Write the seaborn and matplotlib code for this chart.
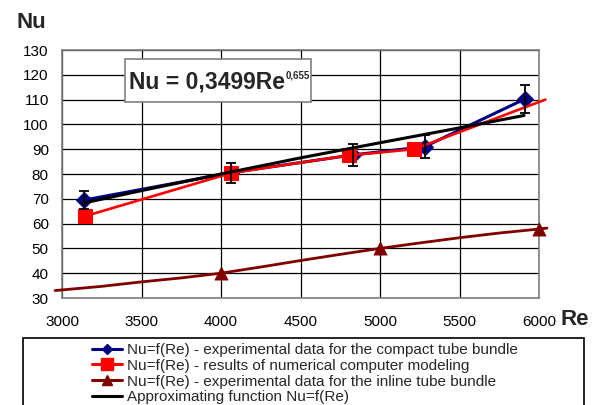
import matplotlib
matplotlib.use("Agg")
import matplotlib.pyplot as plt
from matplotlib.lines import Line2D
from matplotlib.patches import Rectangle
import seaborn as sns
import pandas as pd

# ---- data ----
compact_re = [3140, 4060, 4830, 5280, 5910]
compact_nu = [69.5, 80.5, 87.7, 91.0, 110.2]
compact_err = [3.5, 4.0, 4.4, 4.6, 5.5]

model_re = [3145, 4065, 4805, 5215, 6040]
model_nu = [63.0, 80.4, 87.5, 90.0, 110.0]

inline_curve_re = [2956, 3250, 3500, 3750, 4000, 4250, 4500, 4750, 5000, 5250, 5500, 5750, 6000, 6050]
inline_curve_nu = [33.0, 34.7, 36.5, 38.1, 40.0, 42.5, 45.1, 47.6, 50.0, 52.2, 54.3, 56.2, 57.8, 58.2]
inline_pt_re = [4000, 5000, 6000]
inline_pt_nu = [40.0, 50.0, 58.0]

approx_re = [3130, 3500, 4000, 4500, 5000, 5500, 5906]
approx_nu = [68.2, 73.3, 80.0, 86.5, 92.6, 98.6, 103.6]

x_ticks = [3000, 3500, 4000, 4500, 5000, 5500, 6000]
y_ticks = [30, 40, 50, 60, 70, 80, 90, 100, 110, 120, 130]

labels = [
    "Nu=f(Re) - experimental data for the compact tube bundle",
    "Nu=f(Re) - results of numerical computer modeling",
    "Nu=f(Re) - experimental data for the inline tube bundle",
    "Approximating function Nu=f(Re)",
]
eq_main = "Nu = 0,3499Re"
eq_exp = "0,655"

sns.set_style("white")
plt.rcParams["font.family"] = ["Liberation Sans", "DejaVu Sans"]

BLUE = "#000080"
RED = "#FF0000"
DRED = "#800000"

fig = plt.figure(figsize=(5.98, 4.05), dpi=100)
ax = fig.add_axes([62 / 598, 1 - 298 / 405, 477 / 598, 248 / 405])

df_c = pd.DataFrame({"Re": compact_re, "Nu": compact_nu})
df_m = pd.DataFrame({"Re": model_re, "Nu": model_nu})
df_ic = pd.DataFrame({"Re": inline_curve_re, "Nu": inline_curve_nu})
df_ip = pd.DataFrame({"Re": inline_pt_re, "Nu": inline_pt_nu})
df_a = pd.DataFrame({"Re": approx_re, "Nu": approx_nu})

sns.lineplot(data=df_c, x="Re", y="Nu", ax=ax, color=BLUE, lw=2.2, marker="D",
             markersize=8, markeredgecolor=BLUE, sort=False, estimator=None, zorder=3)
sns.lineplot(data=df_m, x="Re", y="Nu", ax=ax, color=RED, lw=1.9, marker="s",
             markersize=9.5, markeredgecolor=RED, markevery=[0, 1, 2, 3],
             sort=False, estimator=None, clip_on=False, zorder=4)
sns.lineplot(data=df_ic, x="Re", y="Nu", ax=ax, color=DRED, lw=2.0,
             sort=False, estimator=None, clip_on=False, zorder=3)
sns.scatterplot(data=df_ip, x="Re", y="Nu", ax=ax, color=DRED, marker="^", s=90,
                edgecolor=DRED, linewidth=0.5, clip_on=False, zorder=4)
sns.lineplot(data=df_a, x="Re", y="Nu", ax=ax, color="black", lw=2.2,
             sort=False, estimator=None, zorder=5)
ax.errorbar(compact_re, compact_nu, yerr=compact_err, fmt="none", ecolor="black",
            elinewidth=1.3, capsize=3.5, capthick=1.3, zorder=6)

ax.set_xlim(3000, 6000)
ax.set_ylim(30, 130)
ax.set_xticks(x_ticks)
ax.set_yticks(y_ticks)
ax.grid(True, color="black", lw=0.9)
ax.set_axisbelow(True)
for s in ax.spines.values():
    s.set_color("#808080")
    s.set_linewidth(1.2)
ax.tick_params(axis="both", direction="out", length=3.5, width=0.9, color="black",
               labelsize=11, labelcolor="black")
ax.tick_params(axis="x", pad=8.5)
ax.tick_params(axis="y", pad=6)
ax.set_xlabel("")
ax.set_ylabel("")
if ax.get_legend():
    ax.get_legend().remove()

# Axis titles
fig.text(16 / 598, 1 - 28 / 405, "Nu", fontsize=16, fontweight="bold", ha="left", va="baseline")
fig.text(560 / 598, 1 - 325 / 405, "Re", fontsize=16, fontweight="bold", ha="left", va="baseline")

# Equation box
fig.patches.append(Rectangle((125 / 598, 1 - 102 / 405), 186 / 598, 43 / 405,
                             transform=fig.transFigure, facecolor="white",
                             edgecolor="#808080", lw=1.2, zorder=10))
fig.text(129 / 598, 1 - 89 / 405, eq_main, fontsize=16.5, fontweight="bold",
         ha="left", va="baseline", zorder=11)
fig.text(286 / 598, 1 - 78 / 405, eq_exp, fontsize=7, fontweight="bold",
         ha="left", va="baseline", zorder=11)

# Legend frame and legend
fig.patches.append(Rectangle((23 / 598, -0.05), 561 / 598, (405 - 338) / 405 + 0.05,
                             transform=fig.transFigure, fill=False, edgecolor="black",
                             lw=1.2, clip_on=False))
handles = [
    Line2D([], [], color=BLUE, lw=2.2, marker="D", markersize=5),
    Line2D([], [], color=RED, lw=2.2, marker="s", markersize=9),
    Line2D([], [], color=DRED, lw=2.2, marker="^", markersize=7),
    Line2D([], [], color="black", lw=2.2),
]
fig.legend(handles, labels, loc="upper left", bbox_to_anchor=(92 / 598, 1 - 343 / 405),
           frameon=False, fontsize=11, borderpad=0, borderaxespad=0,
           handlelength=1.96, handletextpad=0.33, labelspacing=0.12)

fig.savefig("out.png", dpi=100)
